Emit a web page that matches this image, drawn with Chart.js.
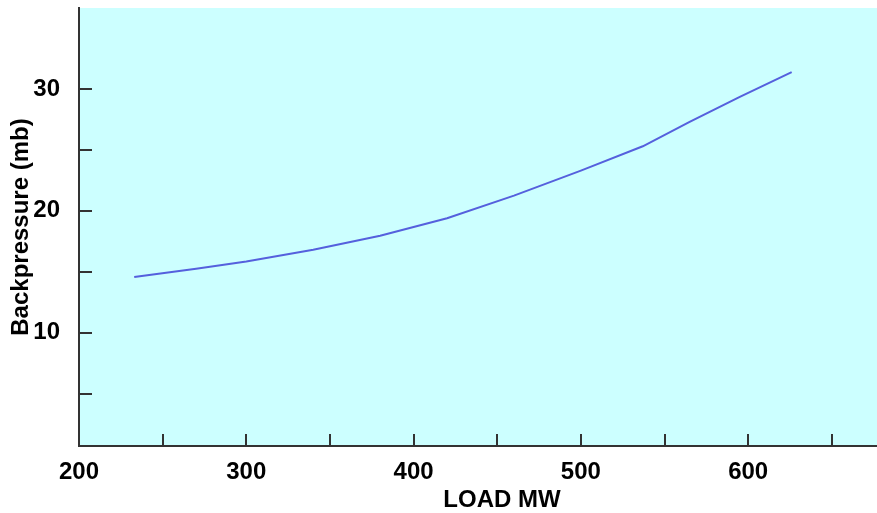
<!DOCTYPE html>
<html>
<head>
<meta charset="utf-8">
<script src="https://cdn.jsdelivr.net/npm/chart.js@4"></script>
<style>
  body { margin: 0; background: #ffffff; }
</style>
</head>
<body>
<canvas id="chart" width="877" height="513"></canvas>
<script>
// valores
const loadMW = [233, 270, 300, 340, 380, 420, 460, 500, 537, 565, 595, 626];
const backpressure = [14.57, 15.25, 15.85, 16.8, 17.95, 19.4, 21.25, 23.3, 25.3, 27.3, 29.35, 31.38];
const xTickLabels = [200, 300, 400, 500, 600];
const xTickMarks = [250, 300, 350, 400, 450, 500, 550, 600, 650];
const yTickLabels = [10, 20, 30];
const yTickMarks = [5, 10, 15, 20, 25, 30];

const FONT = { family: '"Liberation Sans", Arial, sans-serif', size: 24, weight: 'bold', lineHeight: 1.2 };
const AXIS_COLOR = '#333333';

const plotBg = {
    id: 'plotBg',
    beforeDraw(chart) {
        const { ctx, chartArea: a } = chart;
        ctx.save();
        ctx.fillStyle = '#ccffff';
        ctx.fillRect(a.left, a.top, a.right - a.left, a.bottom - a.top);
        ctx.restore();
    }
};

// marcas dos eixos desenhadas para dentro da área do gráfico
const innerTicks = {
    id: 'innerTicks',
    afterDatasetsDraw(chart) {
        const { ctx, chartArea: a, scales } = chart;
        ctx.save();
        ctx.strokeStyle = AXIS_COLOR;
        ctx.lineWidth = 2;
        ctx.beginPath();
        xTickMarks.forEach(v => {
            const x = Math.round(scales.x.getPixelForValue(v));
            ctx.moveTo(x, a.bottom);
            ctx.lineTo(x, a.bottom - 12);
        });
        yTickMarks.forEach(v => {
            const y = Math.round(scales.y.getPixelForValue(v));
            ctx.moveTo(a.left, y);
            ctx.lineTo(a.left + 13, y);
        });
        ctx.stroke();

        // título do eixo X
        ctx.fillStyle = '#000000';
        ctx.font = 'bold 24px "Liberation Sans", Arial, sans-serif';
        ctx.textAlign = 'center';
        ctx.textBaseline = 'middle';
        ctx.fillText('LOAD MW', a.left + (a.right - a.left) / 2 + 24, 500);
        ctx.restore();
    }
};

new Chart(document.getElementById('chart'), {
    type: 'line',
    data: {
        datasets: [{
            label: 'Backpressure',
            data: loadMW.map((x, i) => ({ x, y: backpressure[i] })),
            borderColor: '#5560dd',
            borderWidth: 2,
            pointRadius: 0,
            tension: 0,
            fill: false
        }]
    },
    options: {
        responsive: false,
        animation: false,
        layout: { padding: { top: 8, right: 0, left: 0, bottom: 0 } },
        plugins: { legend: { display: false }, tooltip: { enabled: false } },
        scales: {
            x: {
                type: 'linear',
                min: 200,
                max: 677,
                grid: { display: false },
                border: { display: true, color: AXIS_COLOR, width: 2 },
                afterBuildTicks: s => { s.ticks = xTickLabels.map(v => ({ value: v })); },
                afterFit: s => { s.height = 67; s.paddingLeft = 0; s.paddingRight = 0; },
                ticks: { color: '#000000', font: FONT, padding: 4, maxRotation: 0, autoSkip: false }
            },
            y: {
                type: 'linear',
                min: 0.7,
                max: 36.65,
                grid: { display: false },
                border: { display: true, color: AXIS_COLOR, width: 2 },
                afterBuildTicks: s => { s.ticks = yTickLabels.map(v => ({ value: v })); },
                afterFit: s => { s.width = 79; s.paddingTop = 0; s.paddingBottom = 0; },
                ticks: { color: '#000000', font: FONT, padding: 11 },
                title: {
                    display: true,
                    text: 'Backpressure (mb)',
                    color: '#000000',
                    font: FONT,
                    padding: { top: 7, bottom: 0 }
                }
            }
        }
    },
    plugins: [plotBg, innerTicks]
});
</script>
</body>
</html>
